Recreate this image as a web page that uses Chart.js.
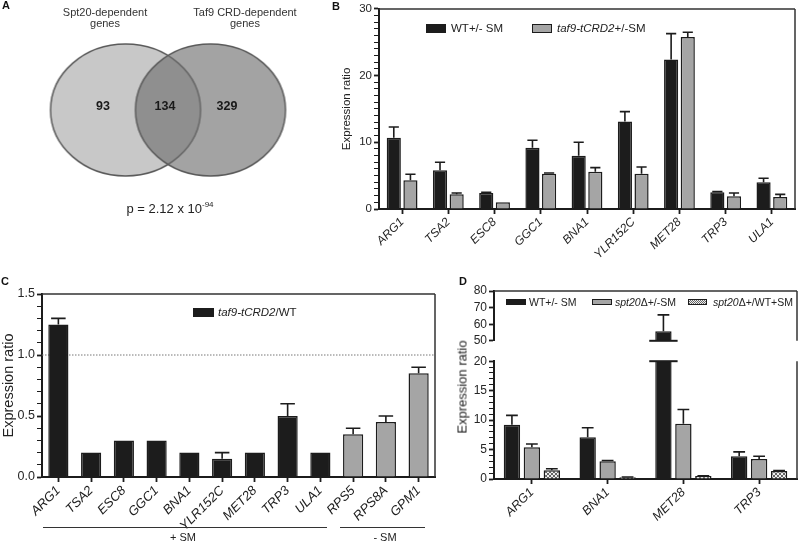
<!DOCTYPE html>
<html>
<head>
<meta charset="utf-8">
<script src="https://cdn.jsdelivr.net/npm/chart.js@4.4.0/dist/chart.umd.min.js"></script>
<style>
body { margin: 0; background: #fff; font-family: "Liberation Sans", Arial, sans-serif; color: #222; }
#wrap { position: relative; width: 800px; height: 542px; overflow: hidden; }
canvas { position: absolute; }
.t { position: absolute; white-space: nowrap; line-height: 1; }
.lbl { font-weight: bold; font-size: 11px; color: #111; }
.box { position: absolute; box-sizing: border-box; }
.rule { position: absolute; height: 0; border-top: 1.5px solid #333; }
</style>
</head>
<body>
<div id="wrap">
  <canvas id="venn" width="336" height="220" style="left:0;top:0"></canvas>
  <canvas id="chartB" width="460" height="270" style="left:340px;top:0"></canvas>
  <canvas id="chartC" width="440" height="264" style="left:0;top:278px"></canvas>
  <canvas id="chartDtop" width="350" height="80" style="left:450px;top:270px"></canvas>
  <canvas id="chartDbot" width="350" height="190" style="left:450px;top:352px"></canvas>

  <div class="t lbl" style="left:2px;top:0">A</div>
  <div class="t lbl" style="left:332px;top:1px">B</div>
  <div class="t lbl" style="left:1px;top:276px">C</div>
  <div class="t lbl" style="left:459px;top:276px">D</div>

  <!-- Venn texts -->
  <div class="t" style="left:105px;top:7px;transform:translateX(-50%);text-align:center;font-size:11px;line-height:10.5px;color:#333">Spt20-dependent<br>genes</div>
  <div class="t" style="left:245px;top:7px;transform:translateX(-50%);text-align:center;font-size:11px;line-height:10.5px;color:#333">Taf9 CRD-dependent<br>genes</div>
  <div class="t" style="left:170px;top:201px;transform:translateX(-50%);font-size:13px;color:#222">p = 2.12 x 10<sup style="font-size:8px;vertical-align:6px">-94</sup></div>

  <!-- B legend -->
  <div class="box" style="left:426px;top:24px;width:20px;height:9px;background:#1c1c1c"></div>
  <div class="t" style="left:451px;top:23px;font-size:11.5px">WT+/- SM</div>
  <div class="box" style="left:532px;top:24px;width:20px;height:9px;background:#a5a5a5;border:1.5px solid #1c1c1c"></div>
  <div class="t" style="left:557px;top:23px;font-size:11.5px"><i>taf9-tCRD2</i>+/-SM</div>

  <!-- C legend and groups -->
  <div class="box" style="left:193px;top:308px;width:21px;height:9px;background:#1c1c1c"></div>
  <div class="t" style="left:218px;top:306.5px;font-size:11.5px"><i>taf9-tCRD2</i>/WT</div>
  <div class="rule" style="left:43px;top:527px;width:284px"></div>
  <div class="rule" style="left:340px;top:527px;width:85px"></div>
  <div class="t" style="left:183px;top:532px;transform:translateX(-50%);font-size:11px">+ SM</div>
  <div class="t" style="left:385px;top:532px;transform:translateX(-50%);font-size:11px">- SM</div>

  <!-- D legend and title -->
  <div class="box" style="left:506px;top:299px;width:20px;height:6px;background:#1c1c1c"></div>
  <div class="t" style="left:529px;top:297px;font-size:10.5px">WT+/- SM</div>
  <div class="box" style="left:592px;top:299px;width:20px;height:6px;background:#a5a5a5;border:1px solid #1c1c1c"></div>
  <div class="t" style="left:615px;top:297px;font-size:10.5px"><i>spt20</i>Δ+/-SM</div>
  <div class="box" style="left:688px;top:299px;width:19px;height:6px;border:1px solid #1c1c1c;background:repeating-conic-gradient(#666 0 25%, #eee 0 50%) 0 0/2px 2px"></div>
  <div class="t" style="left:713px;top:297px;font-size:10.5px"><i>spt20</i>Δ+/WT+SM</div>
  <div class="t" style="left:462px;top:387px;transform:translate(-50%,-50%) rotate(-90deg);font-size:13px;color:#222">Expression ratio</div>
</div>

<script>
// Venn counts (only Spt20 / overlap / only Taf9 CRD)
const vennCounts = [93, 134, 329];

// Panel B
const genesB = ['ARG1', 'TSA2', 'ESC8', 'GGC1', 'BNA1', 'YLR152C', 'MET28', 'TRP3', 'ULA1'];
const wtB = [10.7, 5.8, 2.4, 9.2, 8.0, 13.1, 22.4, 2.5, 4.0];
const wtErrB = [1.6, 1.2, 0.1, 1.1, 2.0, 1.5, 3.9, 0.1, 0.6];
const tcrdB = [4.3, 2.2, 1.0, 5.3, 5.6, 5.3, 25.8, 1.9, 1.8];
const tcrdErrB = [0.9, 0.2, 0, 0.1, 0.6, 1.0, 0.7, 0.5, 0.4];

// Panel C
const genesC = ['ARG1', 'TSA2', 'ESC8', 'GGC1', 'BNA1', 'YLR152C', 'MET28', 'TRP3', 'ULA1', 'RPS5', 'RPS8A', 'GPM1'];
const groupC = ['+', '+', '+', '+', '+', '+', '+', '+', '+', '-', '-', '-'];
const ratioC = [1.25, 0.2, 0.3, 0.3, 0.2, 0.15, 0.2, 0.5, 0.2, 0.35, 0.45, 0.85];
const ratioErrC = [0.05, 0, 0, 0, 0, 0.05, 0, 0.1, 0, 0.05, 0.05, 0.05];

// Panel D
const genesD = ['ARG1', 'BNA1', 'MET28', 'TRP3'];
const wtD = [9.2, 7.1, 55.7, 3.85];
const wtErrD = [1.6, 1.6, 9.9, 0.75];
const spt20D = [5.4, 3.0, 9.4, 3.4];
const spt20ErrD = [0.55, 0.15, 2.4, 0.45];
const spt20WtD = [1.5, 0.3, 0.5, 1.35];
const spt20WtErrD = [0.25, 0.05, 0.05, 0.1];

const FAM = '"Liberation Sans", Arial, sans-serif';
const BLACK = '#1c1c1c';
const GRAY = '#a5a5a5';

// upward error bars with a cap
const errorBars = {
  id: 'errorBars',
  afterDatasetsDraw(chart) {
    const ctx = chart.ctx, y = chart.scales.y;
    chart.data.datasets.forEach((ds, i) => {
      if (!ds.errors) return;
      chart.getDatasetMeta(i).data.forEach((bar, j) => {
        const v = ds.data[j], e = ds.errors[j];
        if (v == null || !e || v > y.max) return;
        const top = y.getPixelForValue(v + e);
        const cap = bar.width * 0.36;
        ctx.save();
        ctx.strokeStyle = BLACK;
        ctx.lineWidth = 1.6;
        ctx.beginPath();
        ctx.moveTo(bar.x, bar.y);
        ctx.lineTo(bar.x, top);
        ctx.moveTo(bar.x - cap, top);
        ctx.lineTo(bar.x + cap, top);
        ctx.stroke();
        ctx.restore();
      });
    });
  }
};

// top / right box lines
const frame = {
  id: 'frame',
  afterDraw(chart, args, opts) {
    const {left, top, right, bottom} = chart.chartArea;
    const ctx = chart.ctx;
    ctx.save();
    ctx.strokeStyle = '#333';
    ctx.lineWidth = 1.5;
    ctx.beginPath();
    if (opts.top !== false) { ctx.moveTo(left, top); ctx.lineTo(right, top); }
    ctx.moveTo(right, top);
    ctx.lineTo(right, bottom);
    ctx.stroke();
    ctx.restore();
  }
};

// dotted reference line at 1.0 (panel C)
const refLine = {
  id: 'refLine',
  beforeDatasetsDraw(chart) {
    const ctx = chart.ctx, a = chart.chartArea;
    const y = chart.scales.y.getPixelForValue(1.0);
    ctx.save();
    ctx.strokeStyle = '#777';
    ctx.lineWidth = 1;
    ctx.setLineDash([1.5, 1.5]);
    ctx.beginPath();
    ctx.moveTo(a.left, y);
    ctx.lineTo(a.right, y);
    ctx.stroke();
    ctx.restore();
  }
};

// break marks for the split axis of panel D
const breakMarks = {
  id: 'breakMarks',
  afterDatasetsDraw(chart, args, opts) {
    const ctx = chart.ctx, y = chart.scales.y, a = chart.chartArea;
    chart.data.datasets.forEach((ds, i) => {
      chart.getDatasetMeta(i).data.forEach((bar, j) => {
        const v = ds.data[j];
        if (v == null) return;
        let py = null;
        if (opts.edge === 'top' && v > y.max) py = a.top;
        if (opts.edge === 'bottom' && v > y.min) py = a.bottom;
        if (py == null) return;
        ctx.save();
        ctx.strokeStyle = BLACK;
        ctx.lineWidth = 2;
        ctx.beginPath();
        ctx.moveTo(bar.x - bar.width / 2 - 6, py);
        ctx.lineTo(bar.x + bar.width / 2 + 6, py);
        ctx.stroke();
        ctx.restore();
      });
    });
  }
};

function yAxis(min, max, step, labelEvery, width, fontSize, title, titleSize, fmt) {
  const isMajor = v => Math.abs(v / labelEvery - Math.round(v / labelEvery)) < 1e-6;
  const ax = {
    min: min, max: max,
    ticks: {
      stepSize: step, autoSkip: false, padding: 2, color: '#262626',
      font: {family: FAM, size: fontSize},
      callback: v => isMajor(v) ? (fmt ? fmt(v) : v) : ''
    },
    grid: {
      drawOnChartArea: false, tickLength: 5, tickColor: BLACK,
      tickWidth: c => (c.tick && isMajor(c.tick.value)) ? 1.8 : 1
    },
    border: {color: BLACK, width: 2},
    afterFit: s => { s.width = width; }
  };
  if (title) {
    ax.title = {display: true, text: title, color: '#222', font: {family: FAM, size: titleSize}, padding: 0};
  }
  return ax;
}

function xAxis(height, fontSize) {
  return {
    ticks: {
      autoSkip: false, maxRotation: 45, minRotation: 45, padding: 1, color: '#1e1e1e',
      font: {family: FAM, size: fontSize, style: 'italic'}
    },
    grid: {drawOnChartArea: false, offset: false, tickLength: 5, tickColor: BLACK, tickWidth: 1.8},
    border: {color: BLACK, width: 2},
    afterFit: s => { s.height = height; }
  };
}

const common = {
  responsive: false,
  animation: false,
  events: [],
  plugins: {legend: {display: false}, tooltip: {enabled: false}}
};

// ---------- Panel A: Venn ----------
function ellipse(rx, ry, fill) {
  const c = document.createElement('canvas');
  c.width = rx * 2 + 4;
  c.height = ry * 2 + 4;
  const g = c.getContext('2d');
  g.beginPath();
  g.ellipse(rx + 2, ry + 2, rx, ry, 0, 0, Math.PI * 2);
  g.fillStyle = fill;
  g.fill();
  g.lineWidth = 1.5;
  g.strokeStyle = '#5b5b5b';
  g.stroke();
  return c;
}

const vennLabels = {
  id: 'vennLabels',
  afterDatasetsDraw(chart) {
    const ctx = chart.ctx, x = chart.scales.x, y = chart.scales.y;
    const spots = [-1.53, -0.07, 1.39];
    ctx.save();
    ctx.font = 'bold 12.5px ' + FAM;
    ctx.fillStyle = '#1a1a1a';
    ctx.textAlign = 'center';
    ctx.textBaseline = 'middle';
    vennCounts.forEach((n, i) => ctx.fillText(String(n), x.getPixelForValue(spots[i]), y.getPixelForValue(0.03)));
    ctx.restore();
  }
};

new Chart(document.getElementById('venn'), {
  type: 'scatter',
  data: {
    datasets: [{
      data: [{x: -1, y: 0}, {x: 1, y: 0}],
      pointStyle: [ellipse(75, 66, '#c8c8c8'), ellipse(75, 66, 'rgba(109,109,109,0.63)')]
    }]
  },
  options: Object.assign({}, common, {
    layout: {padding: 0},
    scales: {
      x: {display: false, min: -3.84, max: 3.84},
      y: {display: false, min: -1, max: 1}
    }
  }),
  plugins: [vennLabels]
});

// ---------- Panel B ----------
new Chart(document.getElementById('chartB'), {
  type: 'bar',
  data: {
    labels: genesB,
    datasets: [
      {label: 'WT+/- SM', data: wtB, errors: wtErrB, backgroundColor: BLACK, borderColor: BLACK, borderWidth: 1.5},
      {label: 'taf9-tCRD2+/-SM', data: tcrdB, errors: tcrdErrB, backgroundColor: GRAY, borderColor: BLACK, borderWidth: 1.5}
    ]
  },
  options: Object.assign({}, common, {
    layout: {padding: {top: 5, right: 5, left: 0, bottom: 0}},
    datasets: {bar: {categoryPercentage: 0.72, barPercentage: 0.85}},
    scales: {
      x: xAxis(61, 12),
      y: yAxis(0, 30, 1, 10, 39, 11.5, 'Expression ratio', 11.5)
    }
  }),
  plugins: [errorBars, frame]
});

// ---------- Panel C ----------
new Chart(document.getElementById('chartC'), {
  type: 'bar',
  data: {
    labels: genesC,
    datasets: [{
      label: 'taf9-tCRD2/WT', data: ratioC, errors: ratioErrC,
      backgroundColor: groupC.map(g => g === '+' ? BLACK : GRAY),
      borderColor: BLACK, borderWidth: 1.5
    }]
  },
  options: Object.assign({}, common, {
    layout: {padding: {top: 16, right: 5, left: 0, bottom: 0}},
    datasets: {bar: {categoryPercentage: 0.8, barPercentage: 0.77}},
    scales: {
      x: xAxis(65, 13),
      y: yAxis(0, 1.5, 0.1, 0.5, 42, 12.5, 'Expression ratio', 14.5, v => v.toFixed(1))
    }
  }),
  plugins: [refLine, errorBars, frame]
});

// ---------- Panel D (split axis) ----------
const hatchCanvas = document.createElement('canvas');
hatchCanvas.width = 4;
hatchCanvas.height = 4;
(function () {
  const g = hatchCanvas.getContext('2d');
  g.fillStyle = '#eeeeee';
  g.fillRect(0, 0, 4, 4);
  g.fillStyle = '#666666';
  [[0, 0], [1, 1], [2, 2], [3, 3], [3, 0], [2, 1], [1, 2], [0, 3]].forEach(p => g.fillRect(p[0], p[1], 1, 1));
})();

function datasetsD(ctx, floor) {
  const keep = arr => arr.map(v => (floor == null || v > floor) ? v : null);
  return [
    {label: 'WT+/- SM', data: keep(wtD), errors: wtErrD, backgroundColor: BLACK, borderColor: BLACK, borderWidth: 1.5, clip: 0},
    {label: 'spt20Δ+/-SM', data: keep(spt20D), errors: spt20ErrD, backgroundColor: GRAY, borderColor: BLACK, borderWidth: 1.5, clip: 0},
    {label: 'spt20Δ+/WT+SM', data: keep(spt20WtD), errors: spt20WtErrD,
     backgroundColor: ctx.createPattern(hatchCanvas, 'repeat'), borderColor: BLACK, borderWidth: 1.5, clip: 0}
  ];
}

const dTopCanvas = document.getElementById('chartDtop');
new Chart(dTopCanvas, {
  type: 'bar',
  data: {labels: genesD, datasets: datasetsD(dTopCanvas.getContext('2d'), 50)},
  options: Object.assign({}, common, {
    layout: {padding: {top: 21, right: 3, left: 0, bottom: 2}},
    datasets: {bar: {categoryPercentage: 0.79, barPercentage: 0.82}},
    plugins: Object.assign({}, common.plugins, {breakMarks: {edge: 'bottom'}}),
    scales: {
      x: {display: false},
      y: yAxis(50, 80, 10, 10, 44, 12)
    }
  }),
  plugins: [errorBars, frame, breakMarks]
});

const dBotCanvas = document.getElementById('chartDbot');
new Chart(dBotCanvas, {
  type: 'bar',
  data: {labels: genesD, datasets: datasetsD(dBotCanvas.getContext('2d'), null)},
  options: Object.assign({}, common, {
    layout: {padding: {top: 4, right: 3, left: 0, bottom: 0}},
    datasets: {bar: {categoryPercentage: 0.79, barPercentage: 0.82}},
    plugins: Object.assign({}, common.plugins, {breakMarks: {edge: 'top'}, frame: {top: false}}),
    scales: {
      x: xAxis(63, 12.5),
      y: yAxis(0, 20, 1, 5, 44, 12)
    }
  }),
  plugins: [errorBars, frame, breakMarks]
});
</script>
</body>
</html>
